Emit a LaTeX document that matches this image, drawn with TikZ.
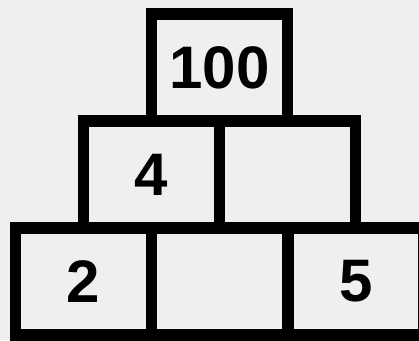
\documentclass[tikz,border=0pt]{standalone}
\usepackage{fontspec}
\setmainfont{Liberation Sans}
\usepackage{tikz}
\usetikzlibrary{positioning}
\definecolor{BgGray}{RGB}{239,239,239}

\begin{document}
\begin{tikzpicture}[x=1pt, y=1pt,
          cell/.style={rectangle, draw=black, line width=11.7pt,
                       minimum width=136pt, minimum height=107pt,
                       inner sep=0pt, outer sep=0pt,
                       font=\fontsize{60}{60}\selectfont\bfseries}
        ]
        \fill[BgGray] (0,0) rectangle (419,340);
        \useasboundingbox (0,0) rectangle (419,340);
        \clip (0,0) rectangle (419,340);

        % bottom row
        \node[cell] (b1) at (83.4, 58.5)  {2};
        \node[cell] (b2) at (219.6, 58.5) {};
        \node[cell] (b3) at (355.8, 58.5) {5};

        % middle row
        \node[cell] (m1) at (151.5, 165.5) {4};
        \node[cell] (m2) at (287.6, 165.5) {};

        % top
        \node[cell] (t1) at (219.6, 272.5) {100};
      \end{tikzpicture}
\end{document}
